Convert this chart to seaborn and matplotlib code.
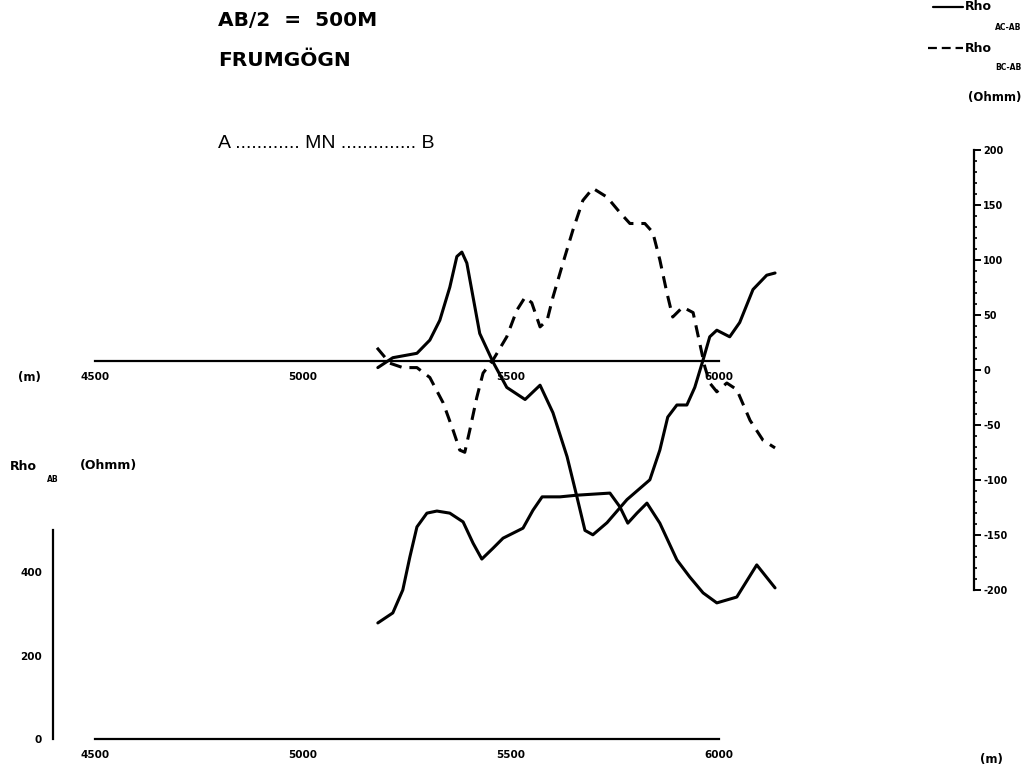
import matplotlib
matplotlib.use("Agg")
import matplotlib.pyplot as plt
import seaborn as sns
import pandas as pd
from matplotlib.ticker import FixedLocator
from matplotlib.lines import Line2D

# ---------------- data ----------------
x_ac = [5180, 5216, 5274, 5305, 5329, 5353, 5370, 5382, 5394, 5409, 5425, 5457, 5490, 5534,
        5570, 5601, 5635, 5659, 5678, 5697, 5731, 5779, 5834, 5858, 5877, 5899, 5923, 5942,
        5962, 5978, 5995, 6026, 6050, 6082, 6115, 6135]
rho_ac_ab = [-6, 3, 7, 19, 37, 67, 95, 99, 89, 58, 25, -1, -24, -35, -22, -47, -87, -124, -154,
             -158, -147, -126, -108, -81, -51, -40, -40, -24, 1, 22, 28, 22, 35, 65, 78, 80]

x_bc = [5178, 5209, 5240, 5274, 5305, 5337, 5361, 5377, 5389, 5401, 5418, 5433, 5457, 5490,
        5514, 5534, 5550, 5570, 5587, 5601, 5625, 5649, 5673, 5697, 5731, 5762, 5786, 5822,
        5841, 5858, 5875, 5889, 5913, 5938, 5954, 5966, 5978, 5995, 6019, 6043, 6075, 6106, 6135]
rho_bc_ab = [12, -2, -6, -6, -15, -38, -63, -81, -83, -63, -33, -11, 1, 22, 46, 58, 53, 31, 37,
             58, 89, 119, 146, 157, 149, 135, 125, 125, 117, 92, 62, 40, 49, 44, 16, -5, -20,
             -28, -20, -26, -54, -72, -79]

x_ab = [5180, 5216, 5240, 5257, 5274, 5298, 5322, 5353, 5385, 5409, 5430, 5457, 5481, 5529,
        5553, 5575, 5618, 5659, 5738, 5762, 5781, 5803, 5827, 5858, 5899, 5930, 5962, 5995,
        6043, 6091, 6135]
rho_ab = [278, 302, 357, 436, 508, 541, 546, 541, 520, 469, 431, 457, 481, 505, 548, 580, 580,
          584, 589, 556, 517, 541, 565, 517, 429, 388, 350, 326, 340, 417, 362]

x_major = [4500, 5000, 5500, 6000]
x_minor = list(range(4500, 6001, 100))
x_labels = ["4500", "5000", "5500", "6000"]
diff_major = [-200, -150, -100, -50, 0, 50, 100, 150, 200]
diff_minor = list(range(-200, 201, 10))
ab_major = [0, 200, 400]
ab_minor = [0, 100, 200, 300, 400, 500]

# ---------------- style ----------------
sns.set_style("white")
plt.rcParams["font.family"] = ["DejaVu Sans"]
plt.rcParams["axes.unicode_minus"] = False
for k in ["text.color", "axes.labelcolor", "xtick.color", "ytick.color", "axes.edgecolor"]:
    plt.rcParams[k] = "black"

W, H = 1027, 770
fig = plt.figure(figsize=(W / 100, H / 100), dpi=100)
fig.patch.set_facecolor("white")

def fx(px):
    return px / W

def fy(py):
    return 1 - py / H

X0, X1 = 4399, 6195   # axis limits (left edge px 53, right edge px 800)
LW_CURVE = 2.2
LW_AXIS = 1.6

# ---------------- upper panel (difference curves) ----------------
ax_u = fig.add_axes([fx(53), fy(581), (800 - 53) / W, 440 / H])
ax_u.patch.set_alpha(0)
df_ac = pd.DataFrame({"x": x_ac, "y": rho_ac_ab})
df_bc = pd.DataFrame({"x": x_bc, "y": rho_bc_ab})
sns.lineplot(data=df_ac, x="x", y="y", ax=ax_u, color="black", linewidth=LW_CURVE,
             sort=False, estimator=None)
sns.lineplot(data=df_bc, x="x", y="y", ax=ax_u, color="black", linewidth=LW_CURVE,
             sort=False, estimator=None)
ax_u.lines[-1].set_dashes((4.0, 2.6))
for ln in ax_u.lines:
    ln.set_solid_joinstyle("round")
    ln.set_dash_joinstyle("round")
ax_u.set_xlim(X0, X1)
ax_u.set_ylim(-200, 200)
for s in ["top", "right", "left"]:
    ax_u.spines[s].set_visible(False)
ax_u.spines["bottom"].set_position(("data", 0))
ax_u.spines["bottom"].set_bounds(4500, 6000)
ax_u.spines["bottom"].set_linewidth(LW_AXIS)
ax_u.set_xticks(x_major, x_labels, fontsize=7.5, fontweight="bold")
ax_u.xaxis.set_minor_locator(FixedLocator(x_minor))
ax_u.tick_params(axis="x", which="major", direction="out", length=5, width=1.4, pad=3)
ax_u.tick_params(axis="x", which="minor", direction="out", length=3, width=1.4)
ax_u.set_yticks([])
ax_u.set_xlabel("")
ax_u.set_ylabel("")

# ---------------- right scale for difference curves ----------------
ax_r = fig.add_axes([fx(964), fy(590), 10 / W, 440 / H])
ax_r.patch.set_alpha(0)
ax_r.set_ylim(-200, 200)
for s in ["top", "left", "bottom"]:
    ax_r.spines[s].set_visible(False)
ax_r.spines["right"].set_linewidth(LW_AXIS)
ax_r.set_xticks([])
ax_r.yaxis.tick_right()
ax_r.set_yticks(diff_major, [str(v) for v in diff_major], fontsize=7, fontweight="bold")
ax_r.yaxis.set_minor_locator(FixedLocator(diff_minor))
ax_r.tick_params(axis="y", which="major", direction="out", length=5, width=1.4, pad=1.5)
ax_r.tick_params(axis="y", which="minor", direction="out", length=2.5, width=1.2)

# ---------------- lower panel (apparent resistivity) ----------------
ax_l = fig.add_axes([fx(53), fy(739), (800 - 53) / W, 250.5 / H])
ax_l.patch.set_alpha(0)
df_ab = pd.DataFrame({"x": x_ab, "y": rho_ab})
sns.lineplot(data=df_ab, x="x", y="y", ax=ax_l, color="black", linewidth=LW_CURVE,
             sort=False, estimator=None)
for ln in ax_l.lines:
    ln.set_solid_joinstyle("round")
ax_l.set_xlim(X0, X1)
ax_l.set_ylim(0, 600)
for s in ["top", "right"]:
    ax_l.spines[s].set_visible(False)
ax_l.spines["bottom"].set_bounds(4500, 6000)
ax_l.spines["left"].set_bounds(0, 500)
for s in ["bottom", "left"]:
    ax_l.spines[s].set_linewidth(LW_AXIS)
ax_l.set_xticks(x_major, x_labels, fontsize=7.5, fontweight="bold")
ax_l.xaxis.set_minor_locator(FixedLocator(x_minor))
ax_l.set_yticks(ab_major, [str(v) for v in ab_major], fontsize=7.5, fontweight="bold")
ax_l.yaxis.set_minor_locator(FixedLocator(ab_minor))
ax_l.tick_params(axis="both", which="major", direction="out", length=5, width=1.4, pad=3)
ax_l.tick_params(axis="both", which="minor", direction="out", length=3, width=1.4)
ax_l.set_xlabel("")
ax_l.set_ylabel("")

# ---------------- texts ----------------
fig.text(fx(218), fy(20), "AB/2  =  500M", fontsize=14.5, fontweight="bold",
         va="center", ha="left")
fig.text(fx(218), fy(61), "FRUMGÖGN", fontsize=14.5, fontweight="bold",
         va="center", ha="left")
fig.text(fx(218), fy(144), "A ............ MN .............. B", fontsize=14, va="center",
         ha="left", family=["Liberation Sans", "DejaVu Sans"])

fig.text(fx(18), fy(377), "(m)", fontsize=8.5, fontweight="bold", va="center", ha="left")
fig.text(fx(10), fy(466), "Rho", fontsize=9, fontweight="bold", va="center", ha="left")
fig.text(fx(47), fy(480), "AB", fontsize=5.5, fontweight="bold", va="center", ha="left")
fig.text(fx(80), fy(466), "(Ohmm)", fontsize=9, fontweight="bold", va="center", ha="left")
fig.text(fx(980), fy(759), "(m)", fontsize=8.5, fontweight="bold", va="center", ha="left")

# legend (top right)
fig.add_artist(Line2D([fx(933), fx(963)], [fy(7), fy(7)], color="black", lw=1.6,
                      transform=fig.transFigure))
leg2 = Line2D([fx(928), fx(963)], [fy(48), fy(48)], color="black", lw=1.6,
              transform=fig.transFigure)
leg2.set_dashes((4.0, 2.2))
fig.add_artist(leg2)
fig.text(fx(965), fy(7), "Rho", fontsize=9, fontweight="bold", va="center", ha="left")
fig.text(fx(995), fy(27), "AC-AB", fontsize=5.5, fontweight="bold", va="center", ha="left")
fig.text(fx(965), fy(48), "Rho", fontsize=9, fontweight="bold", va="center", ha="left")
fig.text(fx(995), fy(68), "BC-AB", fontsize=5.5, fontweight="bold", va="center", ha="left")
fig.text(fx(968), fy(98), "(Ohmm)", fontsize=8.5, fontweight="bold", va="center", ha="left")

fig.savefig("out.png", dpi=100, facecolor="white")
